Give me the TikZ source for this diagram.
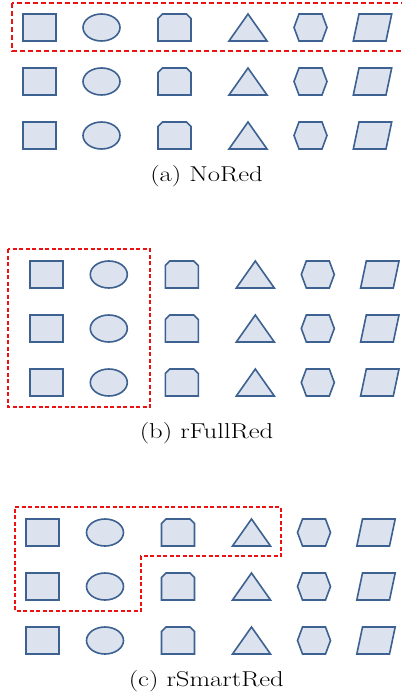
\documentclass[tikz,border=0pt]{standalone}
\usepackage{graphicx}
\definecolor{shapeblue}{HTML}{3D6190}
\definecolor{shapefill}{HTML}{DCE3EE}
\definecolor{boxred}{HTML}{EE1111}
\tikzset{
  shp/.style={draw=shapeblue, fill=shapefill, line width=1.6pt, line join=miter},
  redbox/.style={draw=boxred, line width=1.6pt, dash pattern=on 5pt off 3pt},
  redboxthin/.style={draw=boxred, line width=1.3pt, dash pattern=on 4pt off 2.5pt},
  capt/.style={anchor=base, inner sep=0pt, font=\fontsize{21.5}{26}\selectfont},
  sqs/.pic={\path[shp] (-16.5,-13.5) rectangle (16.5,13.5);},
  ells/.pic={\path[shp] (0,0) ellipse [x radius=18.5, y radius=13.5];},
  chfs/.pic={\path[shp] (-16.5,13.5) -- (-16.5,-9) -- (-12,-13.5) -- (12,-13.5) -- (16.5,-9) -- (16.5,13.5) -- cycle;},
  tris/.pic={\path[shp] (-19,13.5) -- (0,-13.5) -- (19,13.5) -- cycle;},
  hexs/.pic={\path[shp] (-16.5,0) -- (-11.5,-13.5) -- (11.5,-13.5) -- (16.5,0) -- (11.5,13.5) -- (-11.5,13.5) -- cycle;},
  pars/.pic={\path[shp] (-19.2,13.5) -- (-13.5,-13.5) -- (19.2,-13.5) -- (13.5,13.5) -- cycle;},
}
\newcommand\myshaperow[2]{%
  \pic at ({#1+39.2},#2) {sqs};
  \pic at ({#1+101.5},#2) {ells};
  \pic at ({#1+174.5},#2) {chfs};
  \pic at ({#1+248},#2) {tris};
  \pic at ({#1+310.5},#2) {hexs};
  \pic at ({#1+372.5},#2) {pars};
}
\begin{document}
\begin{tikzpicture}[x=1pt, y=-1pt]
\useasboundingbox[fill=white] (0,0) rectangle (401,700);
% panel (a)
\myshaperow{0}{27.5}
\myshaperow{0}{81.5}
\myshaperow{0}{135.5}
\draw[redbox] (12,3) rectangle (405,51);
\node[capt] (capa) at (206.5,181.7) {\scalebox{1.24}[1]{(a) NoRed}};
% panel (b)
\myshaperow{7.3}{274.5}
\myshaperow{7.3}{328.5}
\myshaperow{7.3}{382.5}
\draw[redboxthin] (8,249) rectangle (150,407);
\node[capt] (capb) at (206.5,438.7) {\scalebox{1.24}[1]{(b) rFullRed}};
% panel (c)
\myshaperow{3.5}{532.5}
\myshaperow{3.5}{586.5}
\myshaperow{3.5}{640.5}
\draw[redboxthin] (15,507) -- (281,507) -- (281,556) -- (141,556) -- (141,611) -- (15,611) -- cycle;
\node[capt] (capc) at (206.3,686.5) {\scalebox{1.24}[1]{(c) rSmartRed}};
\end{tikzpicture}
\end{document}
